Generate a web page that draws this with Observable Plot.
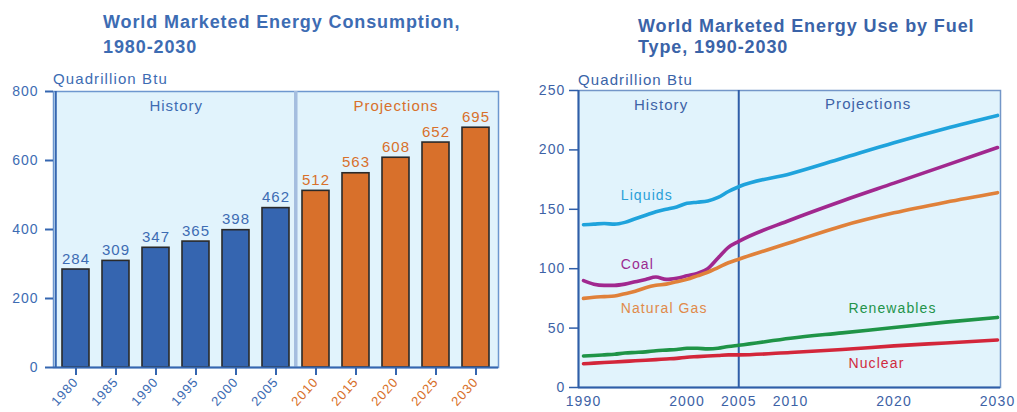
<!DOCTYPE html>
<html><head><meta charset="utf-8">
<script src="https://cdn.jsdelivr.net/npm/d3@7"></script>
<script src="https://cdn.jsdelivr.net/npm/@observablehq/plot@0.6"></script>
<style>
body{margin:0;background:#fff;}
#wrap{position:relative;width:1017px;height:412px;overflow:hidden;font-family:"Liberation Sans",Arial,sans-serif;}
.title{position:absolute;font-weight:bold;white-space:nowrap;z-index:2;}
.unit{position:absolute;font-size:15px;line-height:15px;letter-spacing:1.1px;white-space:nowrap;z-index:2;}
.chart{position:absolute;top:60px;z-index:1;}
</style></head>
<body><div id="wrap">
<div class="title" style="left:103px;top:10px;font-size:18px;line-height:25px;letter-spacing:0.9px;color:#3d6cb3;">World Marketed Energy Consumption,<br>1980-2030</div>
<div class="title" style="left:638px;top:16px;font-size:18px;line-height:21px;letter-spacing:0.9px;color:#3a63a8;">World Marketed Energy Use by Fuel<br>Type, 1990-2030</div>
<div class="unit" style="left:53px;top:71px;color:#3d6cb3;">Quadrillion Btu</div>
<div class="unit" style="left:578px;top:72px;color:#3a63a8;">Quadrillion Btu</div>
<div class="chart" id="left" style="left:0px;width:510px;"></div>
<div class="chart" id="right" style="left:510px;width:507px;"></div>
</div>
<script>
// ---------- Left chart data ----------
const consYears = ["1980","1985","1990","1995","2000","2005","2010","2015","2020","2025","2030"];
const consValues = [284,309,347,365,398,462,512,563,608,652,695];
const consPeriod = ["History","History","History","History","History","History","Projections","Projections","Projections","Projections","Projections"];
const consYTicks = [0,200,400,600,800];
const periodNames = ["History","Projections"];

// ---------- Right chart data ----------
const fuelYears = [1990,1991,1992,1993,1994,1995,1996,1997,1998,1999,2000,2001,2002,2003,2004,2005,2010,2015,2020,2025,2030];
const liquids    = [137,137.5,138,137.5,139,142,145,148,150,152,155,156,157,160,165,169,180,193,206,218,229];
const coal       = [90,87,86,86,87,89,91,93,91,92,94,96,100,109,118,123,141,157,172,187,202];
const naturalGas = [75,76,76.5,77,79,81,84,86,87,89,91,94,97,101,105,108,122,136,147,156,164];
const renewables = [26.5,27,27.5,28,29,29.5,30,31,31.5,32,33,33,32.5,33,34.5,35.5,41.5,46,50.5,55,59];
const nuclear    = [20,20.5,21,21.5,22,22.5,23,23.5,24,24.5,25.5,26,26.5,27,27.5,27.5,29.5,32,35,37.5,40];
const fuelNames = ["Liquids","Coal","Natural Gas","Renewables","Nuclear"];
const fuelSeries = [liquids, coal, naturalGas, renewables, nuclear];
const fuelLabelYear  = [1993.6,1993.6,1993.6,2015.6,2015.6];
const fuelLabelValue = [161.6,103.5,66.5,66.5,20.2];
const fuelXTicks = [1990,2000,2005,2010,2020,2030];
const fuelYTicks = [0,50,100,150,200,250];
const splitYear = 2005;

// ---------- styles ----------
const bg = "#e1f3fc";
const axisBlue = "#3566b0";
const textBlue = "#3d6cb3";
const orange = "#d8702b";
const barBlue = "#3565b0";
const fuelColors = ["#1fa3dc","#a1288f","#e0813a","#1f9447","#d3263a"];
const fuelTextColors = ["#2a9fd8","#9c2a8f","#e08a4a","#23934a","#d02a3e"];
const font = "'Liberation Sans', Arial, sans-serif";

// ---------- Left chart ----------
const consTable = consYears.map((year, i) => ({year, value: consValues[i], period: consPeriod[i]}));
const leftW = 510, leftH = 352, mL = 53, mR = 12;
const step = (leftW - mL - mR) / consYears.length;
const isHist = d => d.period === periodNames[0];
const isProj = d => d.period === periodNames[1];

const left = Plot.plot({
  width: leftW, height: leftH,
  marginLeft: mL, marginRight: mR, marginTop: 31, marginBottom: 45,
  style: {fontFamily: font, background: "transparent", overflow: "visible", letterSpacing: "1px"},
  x: {type: "band", domain: consYears, paddingInner: 0.33, paddingOuter: 0.165, align: 0.5, label: null},
  y: {domain: [0, 800], label: null},
  marks: [
    Plot.frame({fill: bg, stroke: "#6d97cf", strokeWidth: 1.5}),
    Plot.ruleX([consYears[6]], {dx: -step / 2, stroke: "#a4bddf", strokeWidth: 3.5}),
    Plot.barY(consTable, {filter: isHist, x: "year", y: "value", fill: barBlue, stroke: "#2a2a2a", strokeWidth: 1.6}),
    Plot.barY(consTable, {filter: isProj, x: "year", y: "value", fill: orange, stroke: "#2a2a2a", strokeWidth: 1.6}),
    Plot.text(consTable, {filter: isHist, x: "year", y: "value", text: d => String(d.value), dy: -6, lineAnchor: "bottom", fill: textBlue, fontSize: 15}),
    Plot.text(consTable, {filter: isProj, x: "year", y: "value", text: d => String(d.value), dy: -6, lineAnchor: "bottom", fill: orange, fontSize: 15}),
    Plot.text([periodNames[0]], {x: () => consYears[2], dx: step / 2, frameAnchor: "top", dy: 15, lineAnchor: "middle", text: d => d, fill: textBlue, fontSize: 15}),
    Plot.text([periodNames[1]], {x: () => consYears[8], frameAnchor: "top", dy: 15, lineAnchor: "middle", text: d => d, fill: orange, fontSize: 15}),
    Plot.ruleY([0], {stroke: axisBlue, strokeWidth: 2}),
    Plot.ruleX([consYears[0]], {dx: -step / 2, stroke: axisBlue, strokeWidth: 2}),
    Plot.axisY({ticks: consYTicks, tickSize: 8, tickPadding: 7, stroke: axisBlue, strokeWidth: 2, fill: textBlue, fontSize: 14, label: null}),
    Plot.axisX({ticks: consYears.filter((y, i) => consPeriod[i] === periodNames[0]), tickRotate: -48, tickSize: 8, tickPadding: 4, stroke: axisBlue, strokeWidth: 2, fill: textBlue, fontSize: 13, label: null}),
    Plot.axisX({ticks: consYears.filter((y, i) => consPeriod[i] === periodNames[1]), tickRotate: -48, tickSize: 8, tickPadding: 4, stroke: axisBlue, strokeWidth: 2, fill: orange, fontSize: 13, label: null})
  ]
});
document.getElementById("left").appendChild(left);

// ---------- Right chart ----------
const fuelTable = [];
fuelNames.forEach((name, k) => fuelYears.forEach((yr, i) => fuelTable.push({fuel: name, year: yr, value: fuelSeries[k][i]})));
const labelTable = fuelNames.map((name, k) => ({fuel: name, year: fuelLabelYear[k], value: fuelLabelValue[k], k}));
const darkBlue = "#2f5ea8";
const rTextBlue = "#3d62a6";

const right = Plot.plot({
  width: 507, height: 352,
  marginLeft: 68, marginRight: 17, marginTop: 30, marginBottom: 25,
  style: {fontFamily: font, background: "transparent", overflow: "visible", letterSpacing: "1.1px"},
  x: {domain: [fuelYears[0], fuelYears[fuelYears.length - 1]], insetLeft: 5, insetRight: 3, label: null},
  y: {domain: [0, 250], label: null},
  marks: [
    Plot.frame({fill: bg, stroke: "#7396c8", strokeWidth: 1.5}),
    Plot.ruleX([splitYear], {stroke: darkBlue, strokeWidth: 2}),
    ...fuelNames.map((name, k) => Plot.line(fuelTable, {filter: d => d.fuel === name, x: "year", y: "value", stroke: fuelColors[k], strokeWidth: 3.6, curve: "monotone-x"})),
    Plot.text(labelTable, {x: "year", y: "value", text: "fuel", textAnchor: "start", fill: d => fuelTextColors[d.k], fontSize: 14}),
    Plot.text([periodNames[0]], {x: () => (fuelYears[0] + splitYear) / 2, frameAnchor: "top", dy: 15, lineAnchor: "middle", text: d => d, fill: rTextBlue, fontSize: 15}),
    Plot.text([periodNames[1]], {x: () => (splitYear + fuelYears[fuelYears.length - 1]) / 2, frameAnchor: "top", dy: 14, lineAnchor: "middle", text: d => d, fill: rTextBlue, fontSize: 15}),
    Plot.ruleY([0], {stroke: darkBlue, strokeWidth: 2}),
    Plot.ruleX([fuelYears[0]], {dx: -5, stroke: darkBlue, strokeWidth: 2}),
    Plot.axisY({ticks: fuelYTicks, tickSize: 9, tickPadding: 4, stroke: darkBlue, strokeWidth: 1.5, fill: rTextBlue, fontSize: 14, label: null}),
    Plot.axisX({ticks: fuelXTicks, tickFormat: "d", tickSize: 0, tickPadding: 9, fill: rTextBlue, fontSize: 14, label: null})
  ]
});
document.getElementById("right").appendChild(right);
</script>
</body></html>
